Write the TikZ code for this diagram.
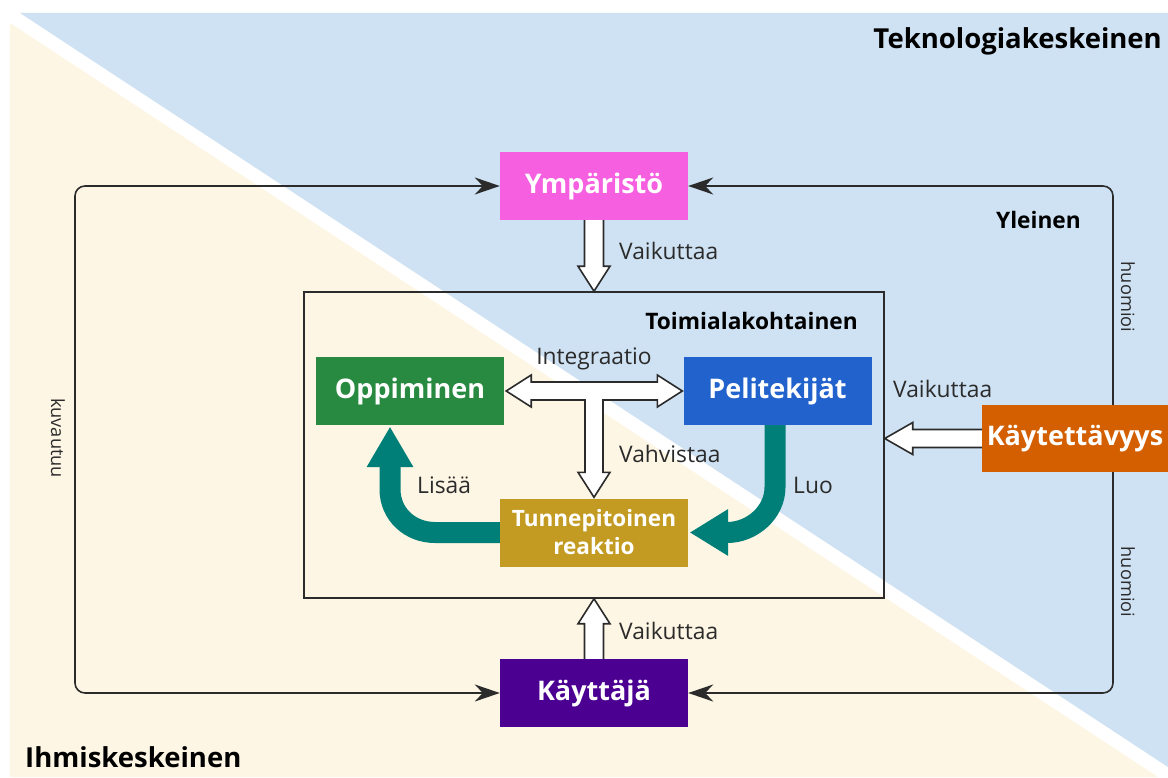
\documentclass[tikz,border=0pt]{standalone}
\usepackage{fontspec}
\setmainfont{Open Sans}
\usetikzlibrary{arrows.meta,calc}

\definecolor{techblue}{HTML}{CFE2F3}
\definecolor{humancream}{HTML}{FEF6E4}
\definecolor{envpink}{HTML}{F55FE0}
\definecolor{learngreen}{HTML}{288A40}
\definecolor{devblue}{HTML}{2262CC}
\definecolor{emogold}{HTML}{C39B22}
\definecolor{useorange}{HTML}{D35F00}
\definecolor{userpurple}{HTML}{4B0092}
\definecolor{flowteal}{HTML}{007F79}
\definecolor{ink}{HTML}{2B2B2B}

\tikzset{
  box/.style={minimum width=188, minimum height=68, inner sep=0, text=white,
    font=\bfseries\fontsize{27}{30}\selectfont},
  conn/.style={draw=ink, line width=1.6},
  hollow/.style={fill=white, draw=ink, line width=1.6, line join=miter},
  flow/.style={draw=flowteal, line width=21, line cap=butt},
  flowhead/.style={fill=flowteal},
  lbl/.style={font=\fontsize{22.8}{26}\selectfont, text=ink, inner sep=0},
  side/.style={font=\fontsize{18.2}{22}\selectfont, text=ink, inner sep=0},
  zone/.style={font=\bfseries\fontsize{27.5}{30}\selectfont, text=black, inner sep=0},
  level/.style={font=\bfseries\fontsize{22.7}{26}\selectfont, text=black, inner sep=0},
  tip/.tip={Stealth[length=25pt, width=17pt, inset=8pt]}
}

\begin{document}
\begin{tikzpicture}[x=1pt, y=-1pt]
\useasboundingbox (0,0) rectangle (1168,778);

% background: technology-centred and human-centred halves
\fill[white] (0,0) rectangle (1168,778);
\fill[techblue] (20,13) -- (1168,13) -- (1168,767) -- cycle;
\fill[humancream] (10,23) -- (10,777) -- (1158,777) -- cycle;

\node[zone, anchor=base east] (tech) at (1162,49) {Teknologiakeskeinen};
\node[zone, anchor=base west] (human) at (25,767) {Ihmiskeskeinen};

% domain-specific frame
\node[draw=ink, line width=1.5, minimum width=580, minimum height=306, inner sep=0] (domain) at (594,445) {};

% boxes
\node[box, fill=envpink] (env) at (594,186) {Ympäristö};
\node[box, fill=learngreen] (learn) at (410,391) {Oppiminen};
\node[box, fill=devblue] (dev) at (777.5,391) {Pelitekijät};
\node[box, fill=emogold, align=center, font=\bfseries\fontsize{22.5}{28}\selectfont] (emo) at (594,532.5) {Tunnepitoinen\\reaktio};
\node[box, fill=useorange, minimum width=186, minimum height=67] (use) at (1075,438.5) {Käytettävyys};
\node[box, fill=userpurple] (user) at (594,693) {Käyttäjä};

% general-level loop
\coordinate (lx) at (75,0);
\coordinate (rx) at (1113,0);
\draw[conn, rounded corners=10, tip-tip] (env.west) -- (env.west -| lx) -- (user.west -| lx) -- (user.west);
\draw[conn, rounded corners=10, -tip] (use.north -| rx) -- (env.east -| rx) -- (env.east);
\draw[conn, rounded corners=10, -tip] (use.south -| rx) -- (user.east -| rx) -- (user.east);

\node[side, rotate=-90] (kuv) at (58,438) {kuvautuu};
\node[side, rotate=-90] (huo1) at (1128,297) {huomioi};
\node[side, rotate=-90] (huo2) at (1128,582) {huomioi};
\node[level, anchor=base east] (gen) at (1081,229) {Yleinen};
\node[level, anchor=base east] (dom) at (858,330) {Toimialakohtainen};

% hollow arrows into the frame
\draw[hollow] ($(env.south)+(-9.5,0)$) -- ($(domain.north)+(-9.5,-25)$) -- ($(domain.north)+(-16,-25)$)
  -- (domain.north) -- ($(domain.north)+(16,-25)$) -- ($(domain.north)+(9.5,-25)$) -- ($(env.south)+(9.5,0)$);
\draw[hollow] ($(user.north)+(-9.5,0)$) -- ($(domain.south)+(-9.5,25)$) -- ($(domain.south)+(-16,25)$)
  -- (domain.south) -- ($(domain.south)+(16,25)$) -- ($(domain.south)+(9.5,25)$) -- ($(user.north)+(9.5,0)$);
\coordinate (uin) at (domain.east |- use.west);
\draw[hollow] ($(use.west)+(0,-9)$) -- ($(uin)+(28,-9)$) -- ($(uin)+(28,-16)$)
  -- (uin) -- ($(uin)+(28,16)$) -- ($(uin)+(28,9)$) -- ($(use.west)+(0,9)$);

% integration / reinforcement T-arrow
\coordinate (il) at ($(learn.east)+(2,0)$);
\coordinate (ir) at ($(dev.west)+(-1,0)$);
\coordinate (id) at ($(emo.north)+(0,-1)$);
\draw[hollow] (il) -- ++(25,-16) -- ++(0,7) -- ($(ir)+(-25,-9)$) -- ++(0,-7) -- (ir)
  -- ++(-25,16) -- ++(0,-7) -- ($(id |- il)+(9,9)$) -- ($(id)+(9,-25)$) -- ++(7,0) -- (id)
  -- ++(-16,-25) -- ++(7,0) -- ($(id |- il)+(-9,9)$) -- ($(il)+(25,9)$) -- ++(0,7) -- cycle;

% teal flows
\coordinate (luoTip) at ($(emo.east)+(2,0)$);
\coordinate (luoTop) at ($(dev.south)+(-2.5,0)$);
\draw[flow] (luoTop) -- ++(0,62) .. controls ++(0,25) and ($(luoTip)+(62,0)$) .. ($(luoTip)+(37,0)$);
\fill[flowhead] (luoTip) -- ++(38,-23.5) -- ++(0,47) -- cycle;

\coordinate (lisTip) at ($(learn.south)+(-20,2)$);
\draw[flow] (emo.west) -- ($(lisTip |- emo.west)+(45,0)$) .. controls ++(-25,0) and ($(lisTip)+(0,87)$) .. ($(lisTip)+(0,62)$) -- ($(lisTip)+(0,39)$);
\fill[flowhead] (lisTip) -- ++(-23.5,40) -- ++(47,0) -- cycle;

% labels
\node[lbl, anchor=base west] (v1) at (619,260) {Vaikuttaa};
\node[lbl, anchor=base west] (v2) at (619,639) {Vaikuttaa};
\node[lbl, anchor=base west] (v3) at (893,397) {Vaikuttaa};
\node[lbl, anchor=base] (integ) at (594,364) {Integraatio};
\node[lbl, anchor=base west] (vahv) at (619,462) {Vahvistaa};
\node[lbl, anchor=base west] (luo) at (793,493) {Luo};
\node[lbl, anchor=base west] (lisaa) at (417,493) {Lisää};
\end{tikzpicture}
\end{document}
